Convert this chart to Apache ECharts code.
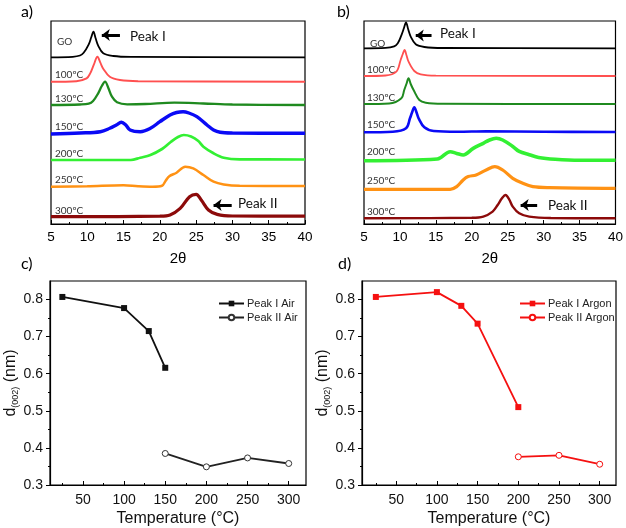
<!DOCTYPE html>
<html><head><meta charset="utf-8">
<script src="https://cdn.jsdelivr.net/npm/echarts@6/dist/echarts.min.js"></script>
<style>html,body{margin:0;padding:0;background:#fff}#c{width:626px;height:528px}</style>
</head><body><div id="c"></div>
<script>
// ---------- DATA ----------
const sampleNames = ['GO', '100ºC', '130ºC', '150ºC', '200ºC', '250ºC', '300ºC'];
const twoThetaTicks = [5, 10, 15, 20, 25, 30, 35, 40];
const tempTicks = [50, 100, 150, 200, 250, 300];
const dTicks = [0.3, 0.4, 0.5, 0.6, 0.7, 0.8];

// XRD patterns, panel a (air): [2θ, intensity above baseline, a.u.]
const a_GO  = [[5,0],[8,0.5],[9,1.8],[9.5,4.5],[10.2,13],[10.55,20],[10.85,25.6],[11.15,19],[11.5,11.7],[12.2,4],[13.6,1.3],[16,0.4],[40,0]];
const a_100 = [[5,0],[8.5,0.5],[9.9,3.3],[10.4,8.3],[10.9,17],[11.4,25],[11.8,19],[12.2,13],[13.1,5],[14.5,1.7],[17,0.5],[40,0]];
const a_130 = [[5,0],[9,0.5],[10.2,1.3],[10.8,4],[11.5,11.7],[12.0,19],[12.45,23.3],[12.9,17],[13.4,8.3],[14.1,2.7],[15.5,0.7],[18,1],[22,2.3],[26,1.5],[30,0.5],[40,0]];
const a_150 = [[5,0],[9,1],[11.8,2.3],[13.1,5.7],[14,9],[14.7,11.7],[15.3,9],[15.9,4],[17.3,2.3],[18.7,5.7],[20,12.3],[21.4,19],[22.3,21.5],[23.2,22.3],[24,21],[25.1,17.3],[26.5,9],[27.4,4],[28.3,1.7],[30,1],[40,0.7]];
const a_200 = [[5,0],[16,0],[17.3,2.3],[18.7,5],[20.3,11],[21.5,18],[22.5,23],[23.3,25],[24.3,23.5],[25.3,19],[26,13.3],[27.4,6.7],[28.8,2.3],[31,0.7],[40,0.5]];
const a_250 = [[5,0],[10,0.5],[15,1.5],[17,0.5],[19,0],[20.3,1],[20.8,6],[21.3,10.5],[22.3,14],[23.5,20],[24.6,18.3],[26,11.7],[27.4,5],[28.8,2.3],[31,1],[40,0.7]];
const a_300 = [[5,0],[20,0.5],[21.4,1.7],[22.8,8.3],[24.1,20],[25,22.3],[25.7,16.7],[26.7,6.7],[27.9,2.3],[30,0.7],[40,0.5]];
const a_offsets = [166.7, 142.3, 119, 90, 64, 37.3, 7.3];

// XRD patterns, panel b (argon)
const b_GO  = [[5,0],[8,0.4],[9.2,2],[9.7,5],[10.2,13],[10.55,20],[10.85,26],[11.15,19],[11.5,11.7],[12.2,4],[13.4,1.3],[16,0.3],[40,0]];
const b_100 = [[5,0],[8,0.5],[9.5,4.3],[10.1,16],[10.4,22],[10.65,26],[10.9,21],[11.2,14.3],[12,5],[12.9,1.7],[15,0.4],[40,0]];
const b_130 = [[5,0],[8.5,0.5],[10.2,5.7],[10.6,14],[10.9,20],[11.2,25.7],[11.5,20],[11.9,14],[12.7,4],[13.6,1.3],[16,0.3],[40,0]];
const b_150 = [[5,0],[9,0.5],[10.85,4],[11.4,14],[11.7,20],[12.0,25],[12.3,20],[12.6,14],[13.4,5],[14.7,1.3],[18,0.5],[22,1],[30,0.5],[40,0.3]];
const b_200 = [[5,0],[15.2,1.7],[17,9],[17.9,7.3],[18.8,5.7],[20.2,12.3],[21.6,17.4],[22.4,20.5],[23.4,22.4],[24.3,20.7],[25.7,14.3],[26.6,9.3],[28,6],[29.3,3.3],[31.6,1.5],[35,0.5],[40,0.5]];
const b_250 = [[5,0],[17,0],[17.9,2.7],[18.8,9.3],[19.5,12.7],[20.6,14.3],[22,19.3],[23.2,22.7],[24.3,19.3],[25.7,11],[27.1,6],[28.5,2.7],[30.8,1.7],[40,1]];
const b_300 = [[5,0],[20,0.5],[21.6,1.7],[22.9,6.7],[23.6,13.3],[24.2,20],[24.7,23.3],[25.2,19],[25.7,11.7],[26.6,5],[28,1.7],[31,0.3],[40,0]];
const b_offsets = [175.7, 148, 120, 91.7, 63.3, 34.7, 5.7];

// d(002) vs temperature
const tempI_air  = [25, 100, 130, 150];
const dI_air     = [0.807, 0.777, 0.715, 0.616];
const tempII_air = [150, 200, 250, 300];
const dII_air    = [0.385, 0.349, 0.373, 0.358];
const tempI_ar   = [25, 100, 130, 150, 200];
const dI_ar      = [0.807, 0.820, 0.783, 0.735, 0.510];
const tempII_ar  = [200, 250, 300];
const dII_ar     = [0.376, 0.380, 0.356];

// ---------- STYLE ----------
const curveColors = ['#000000', '#ff5050', '#1f8a1f', '#0a0af5', '#33f033', '#ff9214', '#8c0a0a'];
const widthsA = [1.8, 1.9, 2.3, 3.4, 2.7, 2.5, 3.2];
const widthsB = [1.8, 1.8, 2.0, 2.6, 3.6, 3.2, 2.4];
const F = 'Arial, "Liberation Sans", sans-serif';

const chart = echarts.init(document.getElementById('c'), null, {renderer: 'canvas'});

function xrdSeries(curves, offsets, idx, widths) {
  return curves.map((c, i) => ({
    type: 'line', xAxisIndex: idx, yAxisIndex: idx, name: sampleNames[i] + idx,
    data: c.map(p => [p[0], p[1] + offsets[i]]),
    showSymbol: false, smooth: 0.35, silent: true,
    lineStyle: {color: curveColors[i], width: widths[i]}, z: 2
  }));
}
function arrow(idx, x1, x2, y) {
  return {
    type: 'line', xAxisIndex: idx, yAxisIndex: idx, data: [], silent: true,
    markLine: {
      silent: true, symbol: ['none', 'arrow'], symbolSize: [9, 8], animation: false,
      label: {show: false},
      lineStyle: {color: '#000', width: 3, type: 'solid'},
      data: [[{coord: [x1, y]}, {coord: [x2, y]}]]
    }
  };
}

const xrdX = (gi) => ({
  type: 'value', gridIndex: gi, min: 5, max: 40, interval: 5,
  axisLine: {show: true, lineStyle: {color: '#000', width: 1.2}},
  axisTick: {show: true, inside: true, length: 4, lineStyle: {color: '#000'}},
  minorTick: {show: true, splitNumber: 2, length: 2, lineStyle: {color: '#000'}},
  axisLabel: {color: '#000', fontSize: 13.5, fontFamily: F, margin: 6},
  splitLine: {show: false},
  name: '2θ', nameLocation: 'middle', nameGap: 27,
  nameTextStyle: {color: '#000', fontSize: 15, fontFamily: F}
});
const xrdY = (gi) => ({type: 'value', gridIndex: gi, min: 0, max: 203, show: false, splitLine: {show: false}});

const tX = (gi, min, max) => ({
  type: 'value', gridIndex: gi, min: min, max: max,
  axisLine: {show: true, lineStyle: {color: '#000', width: 1.2}},
  axisTick: {show: true, inside: true, length: 4, customValues: tempTicks, lineStyle: {color: '#000'}},
  axisLabel: {color: '#111', fontSize: 14, fontFamily: F, margin: 8, customValues: tempTicks},
  splitLine: {show: false},
  name: 'Temperature (°C)', nameLocation: 'middle', nameGap: 26,
  nameTextStyle: {color: '#111', fontSize: 16, fontFamily: F}
});
const tXminor = (gi, min, max) => ({
  type: 'value', gridIndex: gi, min: min, max: max, position: 'bottom',
  axisLine: {show: false},
  axisTick: {show: true, inside: true, length: 2, customValues: [25, 75, 125, 175, 225, 275], lineStyle: {color: '#000'}},
  axisLabel: {show: false}, splitLine: {show: false}
});
const dY = (gi) => ({
  type: 'value', gridIndex: gi, min: 0.3, max: 0.85, interval: 0.1,
  axisLine: {show: true, lineStyle: {color: '#000', width: 1.2}},
  axisTick: {show: true, inside: false, length: 4, customValues: dTicks, lineStyle: {color: '#000'}},
  minorTick: {show: true, splitNumber: 2, length: 2, lineStyle: {color: '#000'}},
  axisLabel: {color: '#111', fontSize: 14, fontFamily: F, margin: 7, customValues: dTicks,
              formatter: v => v.toFixed(1)},
  splitLine: {show: false},
  name: '{d|d}{s|(002)}{d| (nm)}', nameLocation: 'middle', nameGap: 29,
  nameTextStyle: {color: '#111', fontFamily: F,
    rich: {d: {fontSize: 16, fontFamily: F, color: '#111'},
           s: {fontSize: 9, fontFamily: F, color: '#111', padding: [9, 0, 0, 0], verticalAlign: 'bottom'}}}
});

const grids = [
  {left: 51, top: 21, width: 254, height: 203},
  {left: 364, top: 21, width: 254, height: 203},
  {left: 50, top: 281, width: 256, height: 204},
  {left: 362, top: 281, width: 254, height: 204}
].map(g => Object.assign(g, {show: true, borderColor: '#000', borderWidth: 1.2, backgroundColor: 'transparent'}));

function legendFor(names, left) {
  return {
    orient: 'vertical', left: left, top: 293, itemWidth: 25, itemHeight: 7, itemGap: 3,
    data: names, selectedMode: false,
    textStyle: {fontSize: 11, fontFamily: F, color: '#222', padding: [0, 0, 0, -2]}
  };
}

const labelPosA = [[57, 42], [55, 75], [55, 98.5], [55, 127], [55, 154], [55, 180], [55, 210.5]];
const labelPosB = [[370, 44], [367, 70], [367, 97.7], [367, 125], [367, 152], [367, 180.7], [367, 211.7]];
const txt = (x, y, t, size, fam, col) => ({type: 'text', x: x, y: y, silent: true,
  style: {text: t, fontSize: size, fontFamily: fam, fill: col, verticalAlign: 'middle', align: 'left'}});

const graphics = [];
sampleNames.forEach((n, i) => {
  graphics.push(txt(labelPosA[i][0], labelPosA[i][1], n, 10, 'Lato', '#333'));
  graphics.push(txt(labelPosB[i][0], labelPosB[i][1], n, 10, 'Lato', '#333'));
});
graphics.push(txt(130, 36.5, 'Peak I', 13.5, 'Lato', '#111'));
graphics.push(txt(238, 203.5, 'Peak II', 13.5, 'Lato', '#111'));
graphics.push(txt(440, 34, 'Peak I', 13.5, 'Lato', '#111'));
graphics.push(txt(548, 206, 'Peak II', 13.5, 'Lato', '#111'));
graphics.push(txt(21, 12, 'a)', 16, 'Lato', '#000'));
graphics.push(txt(337, 12, 'b)', 16, 'Lato', '#000'));
graphics.push(txt(21, 264, 'c)', 16, 'Lato', '#000'));
graphics.push(txt(338, 264, 'd)', 16, 'Lato', '#000'));

const zip = (xs, ys) => xs.map((x, i) => [x, ys[i]]);

const series = [].concat(
  xrdSeries([a_GO, a_100, a_130, a_150, a_200, a_250, a_300], a_offsets, 0, widthsA),
  xrdSeries([b_GO, b_100, b_130, b_150, b_200, b_250, b_300], b_offsets, 1, widthsB),
  [arrow(0, 14.5, 12.0, 189), arrow(0, 29.9, 27.4, 19), arrow(1, 14.4, 12.2, 188.5), arrow(1, 29.1, 26.8, 19)],
  [
    {type: 'line', name: 'Peak I Air', xAxisIndex: 2, yAxisIndex: 2, data: zip(tempI_air, dI_air),
     symbol: 'rect', symbolSize: 6, itemStyle: {color: '#111'}, lineStyle: {color: '#111', width: 1.8}},
    {type: 'line', name: 'Peak II Air', xAxisIndex: 2, yAxisIndex: 2, data: zip(tempII_air, dII_air),
     symbol: 'circle', symbolSize: 6, itemStyle: {color: '#fff', borderColor: '#333', borderWidth: 1}, lineStyle: {color: '#222', width: 1.8}},
    {type: 'line', name: 'Peak I Argon', xAxisIndex: 3, yAxisIndex: 3, data: zip(tempI_ar, dI_ar),
     symbol: 'rect', symbolSize: 6, itemStyle: {color: '#f51010'}, lineStyle: {color: '#f51010', width: 1.8}},
    {type: 'line', name: 'Peak II Argon', xAxisIndex: 3, yAxisIndex: 3, data: zip(tempII_ar, dII_ar),
     symbol: 'circle', symbolSize: 6, itemStyle: {color: '#fff', borderColor: '#f51010', borderWidth: 1}, lineStyle: {color: '#f51010', width: 1.8}}
  ]
);

chart.setOption({
  animation: false,
  backgroundColor: '#fff',
  grid: grids,
  xAxis: [xrdX(0), xrdX(1), tX(2, 10, 321), tX(3, 8, 320), tXminor(2, 10, 321), tXminor(3, 8, 320)],
  yAxis: [xrdY(0), xrdY(1), dY(2), dY(3)],
  legend: [legendFor(['Peak I Air', 'Peak II Air'], 213), legendFor(['Peak I Argon', 'Peak II Argon'], 514)],
  graphic: graphics,
  series: series
});
</script>
</body></html>
